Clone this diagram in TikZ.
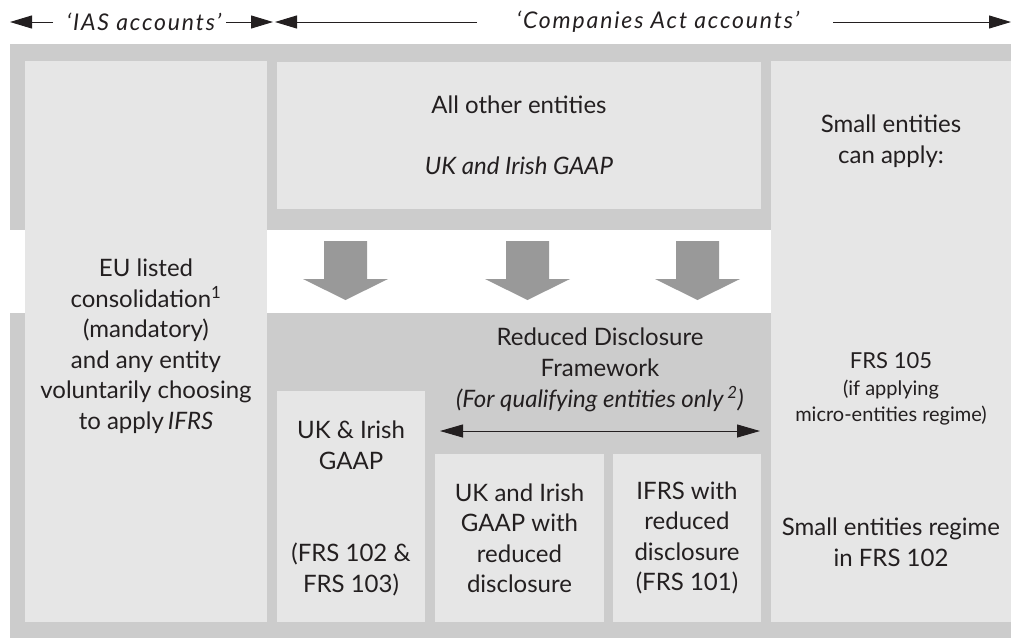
\documentclass[tikz,border=0pt]{standalone}
\usepackage{fontspec}
\setmainfont{Lato}
\usetikzlibrary{arrows.meta}
\definecolor{dk}{HTML}{CCCCCC}
\definecolor{lt}{HTML}{E6E6E6}
\definecolor{ar}{HTML}{999999}
\definecolor{ink}{HTML}{231F20}
\tikzset{
  box/.style={fill=lt, inner sep=0pt, align=center, text=ink,
              font=\fontsize{24}{30.5}\selectfont},
  txt/.style={inner sep=0pt, align=center, text=ink,
              font=\fontsize{24}{31}\selectfont},
  small/.style={inner sep=0pt, align=center, text=ink,
              font=\fontsize{20}{26.5}\selectfont},
  hdr/.style={inner sep=0pt, text=ink,
              font=\fontsize{23}{26}\selectfont\itshape\addfontfeature{LetterSpace=8}},
  hline/.style={draw=ink, line width=1pt, -{Triangle[length=22pt,width=13pt]}},
  blockarrow/.style={fill=ar},
  rdline/.style={draw=ink, line width=1pt, {Triangle[length=23pt,width=13pt]}-{Triangle[length=23pt,width=13pt]}}
}
\begin{document}
\begin{tikzpicture}[x=1pt,y=-1pt]
\useasboundingbox (0,0) rectangle (1011,638);
% background bands
\fill[dk] (10,44) rectangle (1011,230);
\fill[dk] (10,313) rectangle (1011,638);
% header
\node[hdr] (ias) at (144,22) {`IAS accounts'};
\node[hdr] (caa) at (658,22) {`Companies Act accounts'};
\coordinate (h1s) at (53,22);
\coordinate (h1e) at (10,22);
\coordinate (h2s) at (226,22);
\coordinate (h2e) at (273,22);
\coordinate (h3s) at (477,22);
\coordinate (h3e) at (275,22);
\coordinate (h4s) at (833,22);
\coordinate (h4e) at (1011,22);
\draw[hline] (h1s) -- (h1e);
\draw[hline] (h2s) -- (h2e);
\draw[hline] (h3s) -- (h3e);
\draw[hline] (h4s) -- (h4e);
% boxes
\node[box, minimum width=242pt, minimum height=561pt] (ias box) at (146,341.5) {};
\node[box, fill=none] (ias text) at (146,346)
  {EU listed\\consolidation\textsuperscript{1}\\(mandatory)\\and any entity\\voluntarily choosing\\to apply\,\textit{IFRS}};
\node[box, minimum width=484pt, minimum height=147pt] (other) at (519,135.5)
  {All other entities\\[31pt]\textit{UK and Irish GAAP}};
\node[box, minimum width=240pt, minimum height=561pt] (small) at (891,341.5) {};
\node[txt] (small1) at (891,141) {Small entities\\can apply:};
\node[small] (small2) at (891,389) {{\fontsize{22}{24}\selectfont FRS 105}\\(if applying\\micro-entities regime)};
\node[txt] (small3) at (891,542) {Small entities regime\\in FRS 102};
\node[box, minimum width=148pt, minimum height=231pt] (ukg) at (351,506.5) {};
\node[box, fill=none] (ukg text) at (351,508.5)
  {UK \& Irish\\GAAP\\[62pt](FRS 102 \&\\FRS 103)};
\node[box, minimum width=169pt, minimum height=168pt] (rd1) at (519.5,538)
  {UK and Irish\\GAAP with\\reduced\\disclosure};
\node[box, minimum width=148pt, minimum height=168pt] (rd2) at (687,538)
  {IFRS with\\reduced\\disclosure\\(FRS 101)};
\node[txt] (rdf) at (600,370)
  {Reduced Disclosure\\Framework\\\textit{(For qualifying entities only\,\textsuperscript{2})}};
\coordinate (rdl) at (440,431);
\coordinate (rdr) at (760,431);
\draw[rdline] (rdl) -- (rdr);
% block arrows
\foreach \c/\n in {345.5/a1, 527.5/a2, 697.5/a3}{
  \fill[blockarrow] (\c-21.5,241) -- (\c+21.5,241) -- (\c+21.5,279) -- (\c+42.5,279)
     -- (\c,300) -- (\c-42.5,279) -- (\c-21.5,279) -- cycle;
}
\end{tikzpicture}
\end{document}
